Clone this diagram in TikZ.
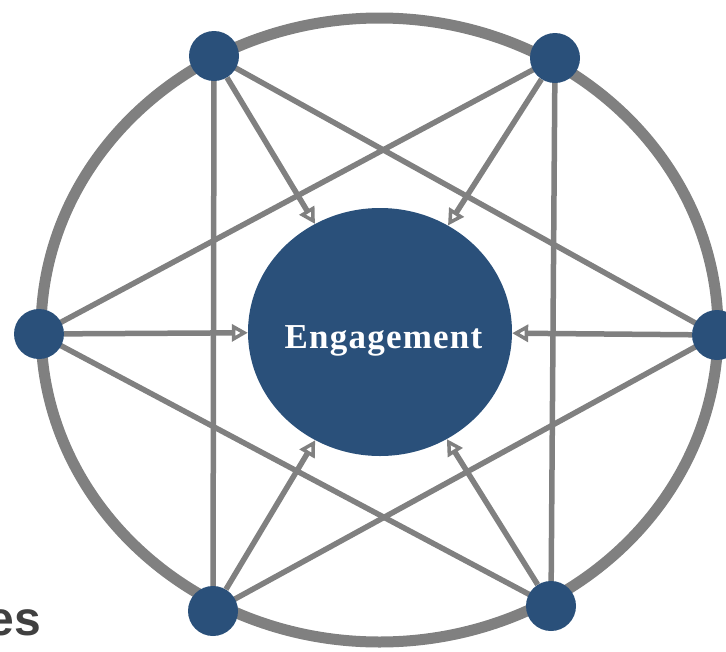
\documentclass[tikz,border=0pt]{standalone}
\usepackage{fontspec}
\setmainfont{Liberation Serif}
\newfontfamily\labelsans{Liberation Sans}
\usetikzlibrary{arrows.meta,shapes.geometric}
\definecolor{hubblue}{RGB}{42,80,122}
\definecolor{linkgray}{RGB}{128,128,128}
\definecolor{captiongray}{RGB}{64,64,64}
\tikzset{
  member/.style={circle, fill=hubblue, minimum size=50pt, inner sep=0pt},
  hub/.style={ellipse, fill=hubblue, minimum width=264pt, minimum height=248pt, inner sep=0pt},
  hubtext/.style={text=white, inner sep=0pt,
    font={\fontsize{35pt}{40pt}\selectfont\bfseries\addfontfeatures{LetterSpace=3.5}}},
  link/.style={draw=linkgray, line width=5.5pt},
  feed/.style={link, -{Triangle[open, length=16pt, width=17pt, line width=3.5pt]}},
  ring/.style={draw=linkgray, line width=11pt}
}
\begin{document}
\begin{tikzpicture}[x=1pt, y=-1pt]
  \useasboundingbox (0,0) rectangle (726,651);
  \clip (0,0) rectangle (726,651);

  % outer ring
  \draw[ring] (379.5,330) ellipse [x radius=338.5, y radius=312];

  % links between members (centre to centre, members cover the ends)
  \coordinate (ctl) at (214,56);
  \coordinate (ctr) at (555,58);
  \coordinate (cl)  at (39,334);
  \coordinate (cr)  at (717,335);
  \coordinate (cbl) at (213,611);
  \coordinate (cbr) at (551,606);
  \draw[link] (ctl) -- (cbl);
  \draw[link] (ctr) -- (cbr);
  \draw[link] (ctl) -- (cr);
  \draw[link] (ctr) -- (cl);
  \draw[link] (cbl) -- (cr);
  \draw[link] (cbr) -- (cl);

  % central hub and the six members around it
  \node[hub] (eng) at (380,332) {};
  \node[hubtext, anchor=base] (engtext) at (383.5,348) {Engagement};
  \node[member] (tl) at (ctl) {};
  \node[member] (tr) at (ctr) {};
  \node[member] (l)  at (cl) {};
  \node[member] (r)  at (cr) {};
  \node[member] (bl) at (cbl) {};
  \node[member] (br) at (cbr) {};

  % arrows into the hub
  \draw[feed] (l) -- (eng);
  \draw[feed] (r) -- (eng);
  \draw[feed] (tl) -- (eng);
  \draw[feed] (tr) -- (eng);
  \draw[feed] (bl) -- (eng);
  \draw[feed] (br) -- (eng);

  % caption fragment at the lower left
  \node[anchor=base east, inner sep=0pt, text=captiongray,
        font={\labelsans\fontsize{48pt}{52pt}\selectfont\bfseries}] (cap) at (41,635) {es};
\end{tikzpicture}
\end{document}
